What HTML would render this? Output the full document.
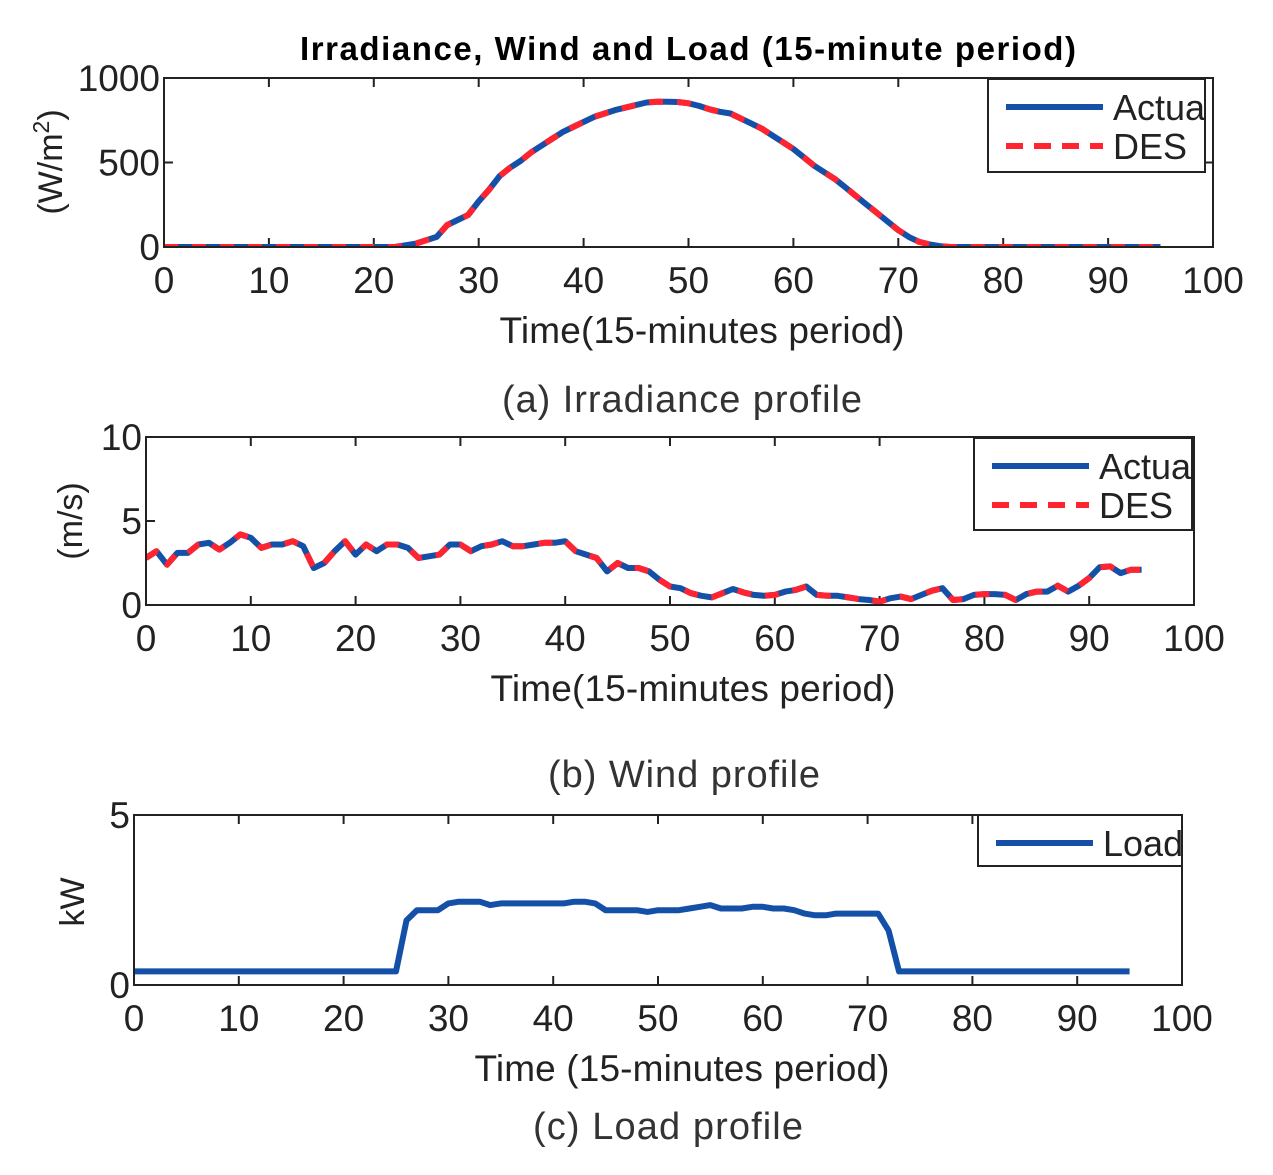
<!DOCTYPE html>
<html><head><meta charset="utf-8"><style>
html,body{margin:0;padding:0;background:#fff}
svg{display:block;font-family:"Liberation Sans",Arial,sans-serif}
</style></head><body>
<svg id="fig" width="1273" height="1175" viewBox="0 0 1273 1175" xmlns="http://www.w3.org/2000/svg">
<text x="688" y="60" font-size="33" font-weight="bold" text-anchor="middle" textLength="776">Irradiance, Wind and Load (15-minute period)</text>
<text x="682" y="412" font-size="38" text-anchor="middle" fill="#333" textLength="360">(a) Irradiance profile</text>
<text x="684" y="787" font-size="38" text-anchor="middle" fill="#333" textLength="272">(b) Wind profile</text>
<text x="668" y="1139" font-size="38" text-anchor="middle" fill="#333" textLength="270">(c) Load profile</text>
</svg>
<script>
const irrActual=[0,0,0,0,0,0,0,0,0,0,0,0,0,0,0,0,0,0,0,0,0,0,0,10,20,40,60,130,160,190,270,340,420,470,510,560,600,640,680,710,740,770,790,810,825,840,855,860,860,858,850,835,815,800,790,760,730,700,660,620,580,530,480,440,400,350,300,250,200,150,100,60,30,15,5,0,0,0,0,0,0,0,0,0,0,0,0,0,0,0,0,0,0,0,0,0];
const irrDES=irrActual.slice();
const windActual=[2.8,3.2,2.4,3.1,3.1,3.6,3.7,3.3,3.7,4.2,4.0,3.4,3.6,3.6,3.8,3.5,2.2,2.5,3.2,3.8,3.0,3.6,3.2,3.6,3.6,3.4,2.8,2.9,3.0,3.6,3.6,3.2,3.5,3.6,3.8,3.5,3.5,3.6,3.7,3.7,3.8,3.2,3.0,2.8,2.0,2.5,2.2,2.2,2.0,1.5,1.1,1.0,0.7,0.55,0.45,0.7,0.95,0.75,0.6,0.55,0.6,0.8,0.9,1.1,0.6,0.55,0.55,0.45,0.35,0.3,0.2,0.4,0.5,0.35,0.6,0.85,1.0,0.3,0.35,0.6,0.65,0.65,0.6,0.3,0.65,0.8,0.8,1.15,0.8,1.15,1.6,2.25,2.3,1.9,2.1,2.1];
const windDES=windActual.slice();
const load=[0.4,0.4,0.4,0.4,0.4,0.4,0.4,0.4,0.4,0.4,0.4,0.4,0.4,0.4,0.4,0.4,0.4,0.4,0.4,0.4,0.4,0.4,0.4,0.4,0.4,0.4,1.9,2.2,2.2,2.2,2.4,2.45,2.45,2.45,2.35,2.4,2.4,2.4,2.4,2.4,2.4,2.4,2.45,2.45,2.4,2.2,2.2,2.2,2.2,2.15,2.2,2.2,2.2,2.25,2.3,2.35,2.25,2.25,2.25,2.3,2.3,2.25,2.25,2.2,2.1,2.05,2.05,2.1,2.1,2.1,2.1,2.1,1.6,0.4,0.4,0.4,0.4,0.4,0.4,0.4,0.4,0.4,0.4,0.4,0.4,0.4,0.4,0.4,0.4,0.4,0.4,0.4,0.4,0.4,0.4,0.4];
const xTicks=[0,10,20,30,40,50,60,70,80,90,100];
const irrYTicks=[0,500,1000];
const windYTicks=[0,5,10];
const loadYTicks=[0,5];

const NS="http://www.w3.org/2000/svg";
const svg=document.getElementById('fig');
function mk(tag,attrs,parent){const e=document.createElementNS(NS,tag);for(const k in attrs)e.setAttribute(k,attrs[k]);(parent||svg).appendChild(e);return e;}

function panel(p){
  const g=mk('g',{});
  
  
  const sx=v=>p.x0+(v-0)/100*(p.x1-p.x0);
  const sy=v=>p.y1-(v-p.ymin)/(p.ymax-p.ymin)*(p.y1-p.y0);
  const clipId=p.name+'-clip';
  const cp=mk('clipPath',{id:clipId},g);
  mk('rect',{x:p.x0,y:p.y0,width:p.x1-p.x0,height:p.y1-p.y0},cp);
  xTicks.forEach(t=>{
    const x=sx(t);
    const tk=mk('path',{d:`M${x},${p.y1}v-9M${x},${p.y0}v9`,stroke:'#222','stroke-width':2},g);
    
    
    const lb=mk('text',{x:x,y:p.y1+46,'font-size':37,'text-anchor':'middle',fill:'#222'},g);
    lb.textContent=t;
    
    
  });
  p.yTicks.forEach(t=>{
    const y=sy(t);
    const tk=mk('path',{d:`M${p.x0},${y}h9M${p.x1},${y}h-9`,stroke:'#222','stroke-width':2},g);
    
    
    const lb=mk('text',{x:p.x0-4,y:y+13,'font-size':37,'text-anchor':'end',fill:'#222'},g);
    lb.textContent=t;
    
    
  });
  const lg=mk('g',{'clip-path':`url(#${clipId})`},g);
  p.series.forEach(s=>{
    const d=s.data.map((v,i)=>(i?'L':'M')+sx(i).toFixed(1)+','+sy(v).toFixed(1)).join('');
    const pa=mk('path',{d:d,fill:'none',stroke:s.color,'stroke-width':6,'stroke-linejoin':'round'},lg);
    if(s.dash)pa.setAttribute('stroke-dasharray',s.dash);
    
    
  });
  const fr=mk('rect',{x:p.x0,y:p.y0,width:p.x1-p.x0,height:p.y1-p.y0,fill:'none',stroke:'#222','stroke-width':2},g);
  
  
  const xl=mk('text',{x:p.xlx,y:p.y1+96,'font-size':37,'text-anchor':'middle',fill:'#222',textLength:p.xlw},g);
  xl.textContent=p.xlabel;
  
  
  const yl=mk('text',{x:0,y:0,'font-size':34,'text-anchor':'middle',fill:'#222',transform:`translate(${p.ylx},${p.yly}) rotate(-90)`},g);
  yl.innerHTML=p.ylabel;
  
  
  const L=p.legend;
  const lgg=mk('g',{},g);
  
  
  const lcp=mk('clipPath',{id:p.name+'-lclip'},lgg);
  mk('rect',{x:L.x,y:L.y,width:L.w,height:L.h},lcp);
  mk('rect',{x:L.x,y:L.y,width:L.w,height:L.h,fill:'#fff',stroke:'#222','stroke-width':2},lgg);
  L.entries.forEach((e,i)=>{
    const yy=L.y+28+i*39;
    const ln=mk('line',{x1:L.x+18,x2:L.x+115,y1:yy,y2:yy,stroke:e.color,'stroke-width':6},lgg);
    if(e.dash)ln.setAttribute('stroke-dasharray','17,11');
    const tx=mk('text',{x:L.x+125,y:yy+13,'font-size':36,fill:'#222','clip-path':`url(#${p.name}-lclip)`},lgg);
    tx.textContent=e.label;
    
    
  });
}
const blue='#1450a8',red='#ff2430';
panel({name:'irradiance-chart',x0:164,x1:1213,y0:78,y1:247,ymin:0,ymax:1000,yTicks:irrYTicks,
  xlabel:'Time(15-minutes period)',xlx:702,xlw:405,ylabel:'(W/m<tspan baseline-shift="super" font-size="23">2</tspan>)',ylx:62,yly:162,
  series:[{name:'irradiance-actual-line',data:irrActual,color:blue},{name:'irradiance-des-line',data:irrDES,color:red,dash:'14,14'}],
  legend:{x:988,y:79,w:217,h:93,entries:[{label:'Actual',color:blue},{label:'DES',color:red,dash:1}]}});
panel({name:'wind-chart',x0:146,x1:1194,y0:437,y1:605,ymin:0,ymax:10,yTicks:windYTicks,
  xlabel:'Time(15-minutes period)',xlx:693,xlw:405,ylabel:'(m/s)',ylx:82,yly:521,
  series:[{name:'wind-actual-line',data:windActual,color:blue},{name:'wind-des-line',data:windDES,color:red,dash:'14,14'}],
  legend:{x:974,y:438,w:218,h:92,entries:[{label:'Actual',color:blue},{label:'DES',color:red,dash:1}]}});
panel({name:'load-chart',x0:134,x1:1182,y0:815,y1:985,ymin:0,ymax:5,yTicks:loadYTicks,
  xlabel:'Time (15-minutes period)',xlx:682,xlw:415,ylabel:'kW',ylx:84,yly:902,
  series:[{name:'load-line',data:load,color:blue}],
  legend:{x:978,y:815,w:204,h:51,entries:[{label:'Load',color:blue}]}});
</script>
</body></html>
